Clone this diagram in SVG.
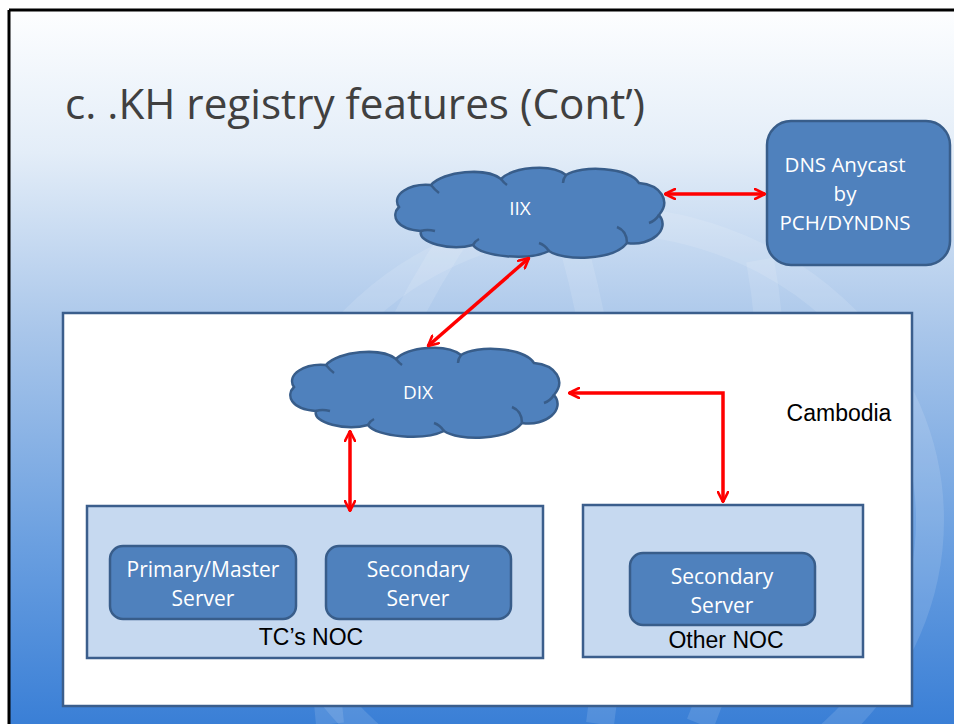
<svg xmlns="http://www.w3.org/2000/svg" width="954" height="724" viewBox="0 0 954 724">
<defs>
<linearGradient id="bg" x1="0" y1="0" x2="0" y2="1">
<stop offset="0" stop-color="#fdfeff"/>
<stop offset="0.2" stop-color="#e3edf8"/>
<stop offset="0.45" stop-color="#a9c6ea"/>
<stop offset="0.75" stop-color="#6a9fe0"/>
<stop offset="1" stop-color="#3a7fd6"/>
</linearGradient>
<marker id="ah" viewBox="0 0 12 12" refX="11" refY="6" markerWidth="12" markerHeight="12" markerUnits="userSpaceOnUse" orient="auto-start-reverse">
<path d="M1,1 L11,6 L1,11" fill="none" stroke="#ff0000" stroke-width="2.6" stroke-linecap="round" stroke-linejoin="round"/>
</marker>
<path id="cloud" d="M 8,42 C 0,30 18,18 40,20 C 52,6 95,2 110,14 C 122,2 160,-2 175,10 C 190,0 238,2 248,18 C 270,20 280,36 268,50 C 280,64 260,82 236,78 C 222,96 172,96 158,86 C 138,96 90,92 82,80 C 60,86 26,78 30,66 C 4,64 0,50 8,42 Z"/>
</defs>
<style>
.cloud{fill:#4f81bd;stroke:#385d8a;stroke-width:2.5}
.inner{fill:none;stroke:#385d8a;stroke-width:2.5}
.srv{fill:#4f81bd;stroke:#385d8a;stroke-width:2.5}
.noc{fill:#c6d9f0;stroke:#3b5e8c;stroke-width:2.5}
.wt{fill:#ffffff;font-family:"Open Sans","Liberation Sans",sans-serif;text-anchor:middle}
.bk{fill:#000000;font-family:"Liberation Sans",Arial,sans-serif;text-anchor:middle;font-size:23px}
.conn{fill:none;stroke:#ff0000;stroke-width:3.5;marker-start:url(#ah);marker-end:url(#ah)}
</style>
<rect x="0" y="0" width="954" height="724" fill="#ffffff"/>
<rect x="9" y="10" width="945" height="714" fill="url(#bg)"/>
<g fill="none" stroke="#ffffff" stroke-opacity="0.12" stroke-width="28">
<path d="M 330,724 Q 300,450 480,200"/>
<path d="M 600,724 Q 640,450 560,200"/>
<path d="M 700,724 Q 800,480 760,260"/>
<ellipse cx="600" cy="520" rx="330" ry="300"/>
</g>
<line x1="9" y1="10" x2="954" y2="10" stroke="#000" stroke-width="3"/>
<line x1="9" y1="10" x2="9" y2="724" stroke="#000" stroke-width="3"/>
<text x="65" y="119" font-family="'Open Sans','Liberation Sans',sans-serif" font-size="42" fill="#404040" textLength="580" lengthAdjust="spacingAndGlyphs">c. .KH registry features (Cont’)</text>

<g id="cambodia">
<rect x="63" y="313" width="849" height="393" fill="#ffffff" stroke="#3b5e8c" stroke-width="2.5"/>
<text x="839" y="421" class="bk">Cambodia</text>
</g>

<g id="iix">
<use href="#cloud" class="cloud" transform="translate(391,165)"/>
<g class="inner" transform="translate(391,165)">
<path d="M 40,20 Q 44,25 48,28"/><path d="M 110,14 Q 113,18 116,20"/><path d="M 175,10 Q 172,14 172,18"/><path d="M 268,50 Q 264,56 258,58"/><path d="M 236,78 Q 236,66 226,62"/><path d="M 158,86 Q 154,80 148,78"/><path d="M 82,80 Q 84,76 88,74"/><path d="M 30,66 Q 36,64 44,66"/>
</g>
<text x="520" y="215" class="wt" font-size="19">IIX</text>
</g>

<g id="dns">
<rect x="767" y="121" width="183" height="144" rx="24" class="srv"/>
<text x="845" y="172" class="wt" font-size="20.5">DNS Anycast</text>
<text x="845" y="201" class="wt" font-size="20.5">by</text>
<text x="845" y="230" class="wt" font-size="20.5">PCH/DYNDNS</text>
</g>

<g id="dix">
<use href="#cloud" class="cloud" transform="translate(286,345)"/>
<g class="inner" transform="translate(286,345)">
<path d="M 40,20 Q 44,25 48,28"/><path d="M 110,14 Q 113,18 116,20"/><path d="M 175,10 Q 172,14 172,18"/><path d="M 268,50 Q 264,56 258,58"/><path d="M 236,78 Q 236,66 226,62"/><path d="M 158,86 Q 154,80 148,78"/><path d="M 82,80 Q 84,76 88,74"/><path d="M 30,66 Q 36,64 44,66"/>
</g>
<text x="418" y="399" class="wt" font-size="19">DIX</text>
</g>

<g id="tcnoc">
<rect x="87" y="506" width="456" height="152" class="noc"/>
<text x="311" y="645" class="bk">TC’s NOC</text>
</g>
<g id="primary">
<rect x="110" y="546" width="186" height="73" rx="13" class="srv"/>
<text x="203" y="577" class="wt" font-size="21">Primary/Master</text>
<text x="203" y="606" class="wt" font-size="21">Server</text>
</g>
<g id="secondary1">
<rect x="326" y="546" width="185" height="73" rx="13" class="srv"/>
<text x="418" y="577" class="wt" font-size="21">Secondary</text>
<text x="418" y="606" class="wt" font-size="21">Server</text>
</g>

<g id="othernoc">
<rect x="583" y="505" width="280" height="152" class="noc"/>
<text x="726" y="648" class="bk">Other NOC</text>
</g>
<g id="secondary2">
<rect x="630" y="553" width="185" height="72" rx="13" class="srv"/>
<text x="722" y="584" class="wt" font-size="21">Secondary</text>
<text x="722" y="613" class="wt" font-size="21">Server</text>
</g>

<g id="connectors">
<line x1="665" y1="194" x2="765" y2="194" class="conn"/>
<line x1="529" y1="258" x2="428" y2="346" class="conn"/>
<line x1="350" y1="431" x2="350" y2="511" class="conn"/>
<polyline points="569,393 723,393 723,502" class="conn"/>
</g>
</svg>
